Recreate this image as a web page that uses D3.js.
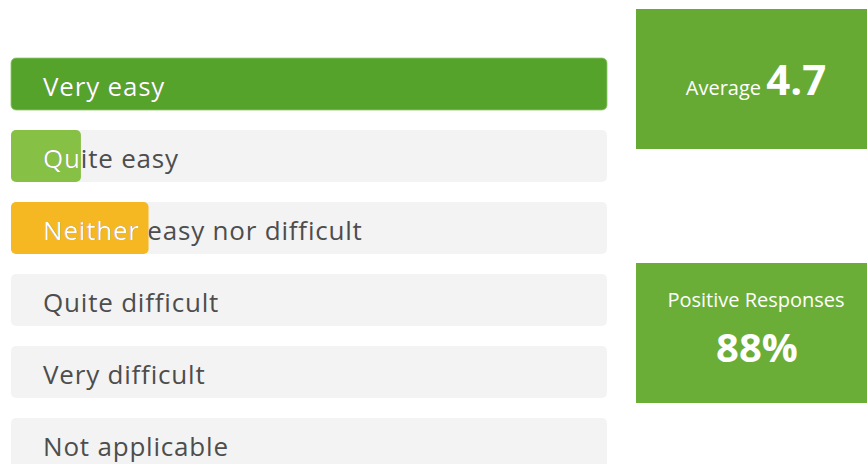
<!DOCTYPE html>
<html>
<head>
<meta charset="utf-8">
<script src="https://cdn.jsdelivr.net/npm/d3@7"></script>
<style>
  body { margin: 0; background: #fff; }
  svg { display: block; }
</style>
</head>
<body>
<div id="chart"></div>
<script>
// answers and response counts
const categories = ["Very easy", "Quite easy", "Neither easy nor difficult", "Quite difficult", "Very difficult", "Not applicable"];
const counts = [26, 3.05, 6, 0, 0, 0];
const barColors = ["#55a32b", "#86c044", "#f5b822", "#f3f3f3", "#f3f3f3", "#f3f3f3"];

// summary boxes
const averageLabel = "Average";
const averageValue = "4.7";
const positiveLabel = "Positive Responses";
const positiveValue = "88%";

const W = 867, H = 464;

const svg = d3.select("#chart")
    .append("svg")
    .attr("width", W)
    .attr("height", H);

// bars
const x = d3.scaleLinear()
    .domain([0, d3.max(counts)])
    .range([0, 596]);

const y = d3.scaleBand()
    .domain(categories)
    .range([58, 470])
    .paddingInner(20 / 72)
    .paddingOuter(0);

const fontFam = "'Open Sans', 'DejaVu Sans', sans-serif";

const rows = svg.append("g")
    .attr("transform", "translate(11,0)")
  .selectAll("g")
  .data(categories)
  .join("g")
    .attr("transform", d => `translate(0,${y(d)})`);

// background track
rows.append("rect")
    .attr("width", x.range()[1])
    .attr("height", y.bandwidth())
    .attr("rx", 5)
    .attr("fill", "#f3f3f3");

// value bar
rows.append("rect")
    .attr("width", (d, i) => x(counts[i]))
    .attr("height", y.bandwidth())
    .attr("rx", 5)
    .attr("fill", (d, i) => barColors[i])
    .attr("stroke", (d, i) => i === 0 ? "#8dc66a" : "none")
    .attr("stroke-width", 0.8);

svg.append("defs").selectAll("clipPath")
  .data(categories)
  .join("clipPath")
    .attr("id", (d, i) => "clip" + i)
  .append("rect")
    .attr("x", 11)
    .attr("y", d => y(d))
    .attr("width", (d, i) => x(counts[i]))
    .attr("height", y.bandwidth());

// label in gray, then again in white clipped to the bar
const labels = svg.append("g");
labels.selectAll("text.out")
  .data(categories)
  .join("text")
    .attr("class", "out")
    .attr("x", 43)
    .attr("y", d => y(d) + y.bandwidth() / 2)
    .attr("dy", "0.45em")
    .attr("font-family", fontFam)
    .attr("font-size", 26)
    .attr("letter-spacing", 0.8)
    .attr("fill", "#4d4d4d")
    .text(d => d);

labels.selectAll("text.in")
  .data(categories)
  .join("text")
    .attr("class", "in")
    .attr("clip-path", (d, i) => `url(#clip${i})`)
    .attr("x", 43)
    .attr("y", d => y(d) + y.bandwidth() / 2)
    .attr("dy", "0.45em")
    .attr("font-family", fontFam)
    .attr("font-size", 26)
    .attr("letter-spacing", 0.8)
    .attr("fill", "#fff")
    .text(d => d);

// summary boxes
const boxFont = "'Open Sans', sans-serif";

const box1 = svg.append("g").attr("transform", "translate(636,9)");
box1.append("rect").attr("width", 241).attr("height", 140).attr("fill", "#66aa33");
const t1 = box1.append("text")
    .attr("x", 120)
    .attr("y", 86)
    .attr("text-anchor", "middle")
    .attr("font-family", boxFont)
    .attr("fill", "#fff");
t1.append("tspan").attr("font-size", 20).text(averageLabel + " ");
t1.append("tspan").attr("font-size", 42).attr("font-weight", "bold").text(averageValue);

const box2 = svg.append("g").attr("transform", "translate(636,263)");
box2.append("rect").attr("width", 241).attr("height", 140).attr("fill", "#6aae37");
box2.append("text")
    .attr("x", 120)
    .attr("y", 44)
    .attr("text-anchor", "middle")
    .attr("font-family", boxFont)
    .attr("font-size", 20)
    .attr("fill", "#fff")
    .text(positiveLabel);
box2.append("text")
    .attr("x", 121)
    .attr("y", 99)
    .attr("text-anchor", "middle")
    .attr("font-family", boxFont)
    .attr("font-size", 40)
    .attr("font-weight", "bold")
    .attr("fill", "#fff")
    .text(positiveValue);
</script>
</body>
</html>
